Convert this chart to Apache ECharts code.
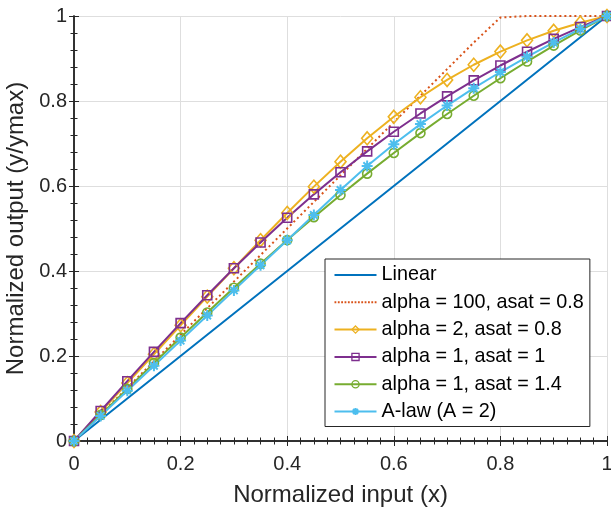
<!DOCTYPE html>
<html>
<head>
<meta charset="utf-8">
<script src="https://cdn.jsdelivr.net/npm/echarts@6/dist/echarts.min.js"></script>
<style>
html,body{margin:0;padding:0;background:#fff;}
#chart{width:611px;height:509px;}
</style>
</head>
<body>
<div id="chart"></div>
<script>
const xValues = [0,0.05,0.1,0.15,0.2,0.25,0.3,0.35,0.4,0.45,0.5,0.55,0.6,0.65,0.7,0.75,0.8,0.85,0.9,0.95,1];
const seriesNames = ['Linear','alpha = 100, asat = 0.8','alpha = 2, asat = 0.8','alpha = 1, asat = 1','alpha = 1, asat = 1.4','A-law (A = 2)'];
const linear = [0,0.05,0.1,0.15,0.2,0.25,0.3,0.35,0.4,0.45,0.5,0.55,0.6,0.65,0.7,0.75,0.8,0.85,0.9,0.95,1];
const alpha100 = [0,0.0625,0.125,0.1875,0.25,0.3125,0.375,0.4375,0.5,0.5625,0.625,0.6875,0.75,0.8125,0.875,0.9375,0.9965,1,1,1,1];
const alpha2 = [0,0.0681,0.1362,0.2042,0.2721,0.3397,0.4066,0.4724,0.5366,0.5985,0.6573,0.7123,0.7629,0.8088,0.8496,0.8853,0.9163,0.9427,0.9652,0.9841,1];
const alpha1asat1 = [0,0.0706,0.1407,0.2098,0.2774,0.3430,0.4064,0.4672,0.5252,0.5803,0.6325,0.6815,0.7276,0.7707,0.8110,0.8485,0.8835,0.9159,0.9461,0.9740,1];
const alpha1asat14 = [0,0.0614,0.1226,0.1833,0.2433,0.3024,0.3605,0.4173,0.4727,0.5265,0.5787,0.6291,0.6777,0.7245,0.7694,0.8124,0.8536,0.8929,0.9304,0.9660,1];
const alaw = [0,0.0591,0.1181,0.1772,0.2362,0.2953,0.3544,0.4134,0.4725,0.5316,0.5906,0.6469,0.6983,0.7456,0.7893,0.8301,0.8682,0.9040,0.9378,0.9697,1];
const tickLabels = ['0','0.2','0.4','0.6','0.8','1'];

const FONT = 'Liberation Sans, Arial, sans-serif';
const AX = '#262626';
const COLORS = ['#0072BD','#D95319','#EDB120','#7E2F8E','#77AC30','#4DBEEE'];
const ASTERISK = 'path://M5 0 L5 10 M0 5 L10 5 M1.6 1.6 L8.4 8.4 M1.6 8.4 L8.4 1.6';
const LINE_ICON = 'path://M0 0H42V2H0Z';
let DOT_ICON = 'path://';
for (let i = 0; i < 13; i++) { DOT_ICON += 'M' + (i * 3.33).toFixed(2) + ' 0h1.8v2h-1.8z'; }

function pairs(ys){ return xValues.map((x,i)=>[x, ys[i]]); }
const fmt = v => tickLabels[Math.round(v/0.2)];

function mkSeries(name, ys, color, opts){
  return Object.assign({
    name: name, type: 'line', data: pairs(ys),
    symbol: 'none', symbolSize: 9,
    lineStyle: {color: color, width: 2},
    itemStyle: {color: 'rgba(0,0,0,0)', borderColor: color, borderWidth: 1.6},
    animation: false, z: 3
  }, opts||{});
}
function hollowLegend(i, bw){
  return {name: seriesNames[i], itemStyle: {color: 'rgba(0,0,0,0)', borderColor: COLORS[i], borderWidth: bw || 1.3}};
}

const baseAxis = {
  min: 0, max: 1, interval: 0.2, type: 'value',
  axisLine: {show: true, lineStyle: {color: AX, width: 1.5}},
  axisTick: {show: true, inside: false, length: -5, lineStyle: {color: AX, width: 1}},
};
const minorX = {show: true, splitNumber: 8, length: -3.5, lineStyle: {color: AX, width: 1}};
const minorY = {show: true, splitNumber: 5, length: -3.5, lineStyle: {color: AX, width: 1}};

const chart = echarts.init(document.getElementById('chart'), null, {renderer: 'canvas'});
chart.setOption({
  backgroundColor: '#fff',
  textStyle: {fontFamily: FONT},
  grid: {left: 74, right: 4, top: 16, bottom: 68, containLabel: false, outerBoundsMode: 'none'},
  xAxis: [
    Object.assign({}, baseAxis, {
      position: 'bottom',
      name: 'Normalized input (x)', nameLocation: 'middle', nameGap: 42,
      nameTextStyle: {fontSize: 24, color: AX, fontFamily: FONT},
      axisLabel: {show: true, fontSize: 20, color: AX, margin: 13, fontFamily: FONT, formatter: fmt},
      minorTick: minorX,
      splitLine: {show: true, lineStyle: {color: '#dedede', width: 1}}
    }),
    Object.assign({}, baseAxis, {
      position: 'top',
      axisLabel: {show: false},
      minorTick: minorX,
      splitLine: {show: false}
    })
  ],
  yAxis: [
    Object.assign({}, baseAxis, {
      position: 'left',
      name: 'Normalized output (y/ymax)', nameLocation: 'middle', nameGap: 42,
      nameTextStyle: {fontSize: 24, color: AX, fontFamily: FONT},
      axisLabel: {show: true, fontSize: 20, color: AX, margin: 7, fontFamily: FONT, formatter: fmt},
      minorTick: minorY,
      splitLine: {show: true, lineStyle: {color: '#dedede', width: 1}}
    }),
    Object.assign({}, baseAxis, {
      position: 'right',
      axisLabel: {show: false},
      minorTick: minorY,
      splitLine: {show: false}
    })
  ],
  legend: {
    orient: 'vertical', left: 325, top: 259,
    padding: [6, 6, 5, 8.5], itemGap: 7.3,
    itemWidth: 42, itemHeight: 9,
    backgroundColor: '#fff', borderColor: AX, borderWidth: 1,
    textStyle: {fontSize: 19.8, color: '#000', fontFamily: FONT},
    data: [
      {name: seriesNames[0], icon: LINE_ICON, itemStyle: {color: COLORS[0], borderWidth: 0}},
      {name: seriesNames[1], icon: DOT_ICON, itemStyle: {color: COLORS[1], borderWidth: 0}},
      hollowLegend(2), hollowLegend(3), hollowLegend(4), hollowLegend(5, 2)
    ]
  },
  series: [
    mkSeries(seriesNames[0], linear, COLORS[0], {itemStyle: {color: COLORS[0], borderWidth: 0}}),
    mkSeries(seriesNames[1], alpha100, COLORS[1], {lineStyle: {color: COLORS[1], width: 2, type: [2, 3]}, itemStyle: {color: COLORS[1], borderWidth: 0}}),
    mkSeries(seriesNames[2], alpha2, COLORS[2], {symbol: 'diamond', symbolSize: [11, 13]}),
    mkSeries(seriesNames[3], alpha1asat1, COLORS[3], {symbol: 'rect', symbolSize: 9}),
    mkSeries(seriesNames[4], alpha1asat14, COLORS[4], {symbol: 'circle', symbolSize: 9}),
    mkSeries(seriesNames[5], alaw, COLORS[5], {symbol: ASTERISK, symbolSize: 11, itemStyle: {color: 'rgba(0,0,0,0)', borderColor: COLORS[5], borderWidth: 2}})
  ]
});
</script>
</body>
</html>
